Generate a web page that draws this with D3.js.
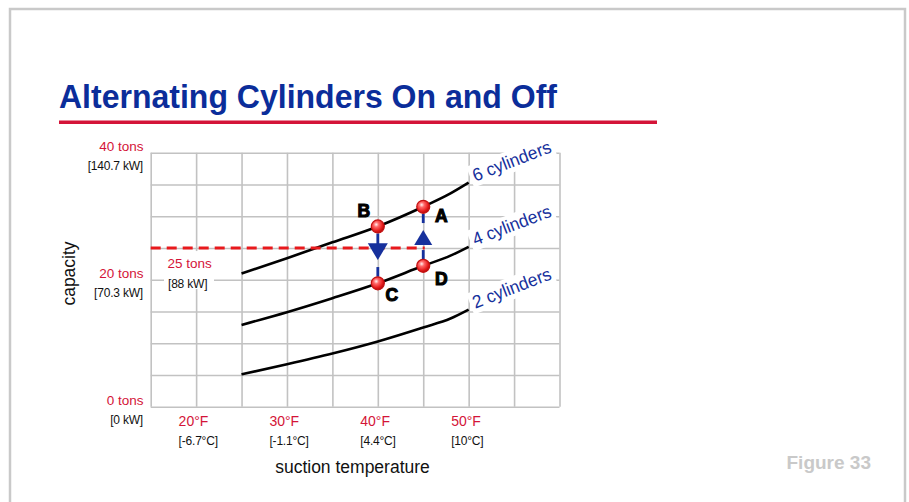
<!DOCTYPE html>
<html><head><meta charset="utf-8">
<script src="https://cdn.jsdelivr.net/npm/d3@7"></script>
<style>
html,body{margin:0;padding:0;background:#fff;}
svg{display:block;font-family:"Liberation Sans",Arial,Helvetica,sans-serif;}
</style>
</head><body>
<svg id="c" width="909" height="502"></svg>
<script>
// ---------- data ----------
const temps = [25, 30, 35, 40, 45, 48, 50];            // °F
const cap6 = [21.0, 23.4, 25.9, 28.4, 31.5, 33.6, 35.3]; // tons
const cap4 = [12.9, 14.9, 17.1, 19.45, 22.2, 23.8, 25.2];
const cap2 = [5.1, 6.7, 8.4, 10.3, 12.5, 13.9, 15.3];
const seriesNames = ["6 cylinders", "4 cylinders", "2 cylinders"];
const pointNames = ["A", "B", "C", "D"];
const pointTemps = [45, 40, 40, 45];
const pointCaps = [31.5, 28.4, 19.45, 22.2];
const targetTons = 25;
const targetLabels = ["25 tons", "[88 kW]"];
const yTickValues = [0, 20, 40];
const yTonsLabels = ["0 tons", "20 tons", "40 tons"];
const yKwLabels = ["[0 kW]", "[70.3 kW]", "[140.7 kW]"];
const xTickValues = [20, 30, 40, 50];
const xFLabels = ["20°F", "30°F", "40°F", "50°F"];
const xCLabels = ["[-6.7°C]", "[-1.1°C]", "[4.4°C]", "[10°C]"];
const titleText = "Alternating Cylinders On and Off";
const xTitle = "suction temperature";
const yTitle = "capacity";
const figureLabel = "Figure 33";

// ---------- setup ----------
const RED = "#d41438", BLUE = "#16309c", NAVY = "#0b2d9a", GRID = "#c2c2c2";
const svg = d3.select("#c");
const x = d3.scaleLinear().domain([15, 60]).range([150.7, 559.5]);
const y = d3.scaleLinear().domain([0, 40]).range([406.8, 152.8]);

// frame
svg.append("path")
  .attr("d", "M10,502 L10,9 L905,9 L905,502")
  .attr("fill", "none").attr("stroke", "#c9c9c9").attr("stroke-width", 2.5);

// title
svg.append("text").attr("x", 59).attr("y", 107.5)
  .attr("font-size", 34).attr("font-weight", "bold").attr("fill", NAVY)
  .attr("textLength", 498).attr("lengthAdjust", "spacingAndGlyphs")
  .text(titleText);
svg.append("rect").attr("x", 59).attr("y", 120.5).attr("width", 598).attr("height", 3.5).attr("fill", RED);

// gradient for markers
const defs = svg.append("defs");
const g = defs.append("radialGradient").attr("id", "ball").attr("cx", "38%").attr("cy", "35%").attr("r", "65%");
g.append("stop").attr("offset", "0%").attr("stop-color", "#fff2f2");
g.append("stop").attr("offset", "30%").attr("stop-color", "#ff6868");
g.append("stop").attr("offset", "75%").attr("stop-color", "#e61c1c");
g.append("stop").attr("offset", "100%").attr("stop-color", "#b80c0c");

// ---------- grid ----------
const gx = svg.append("g").attr("transform", `translate(0,${y(0)})`)
  .call(d3.axisBottom(x).tickValues(d3.range(15, 61, 5)).tickSize(-(y(0) - y(40))).tickFormat(""));
const gy = svg.append("g").attr("transform", `translate(${x(15)},0)`)
  .call(d3.axisLeft(y).tickValues(d3.range(0, 41, 5)).tickSize(-(x(60) - x(15))).tickFormat(""));
[gx, gy].forEach(a => {
  a.select(".domain").remove();
  a.selectAll(".tick line").attr("stroke", GRID).attr("stroke-width", 1.6);
});

// axis labels
const yl = svg.append("g");
yTickValues.forEach((v, i) => {
  yl.append("text").attr("x", 143.5).attr("y", y(v) - 1.5).attr("text-anchor", "end")
    .attr("font-size", 13.5).attr("fill", RED).text(yTonsLabels[i]);
  yl.append("text").attr("x", 143).attr("y", y(v) + 17.5).attr("text-anchor", "end")
    .attr("font-size", 12).attr("letter-spacing", -0.2).attr("fill", "#111").text(yKwLabels[i]);
});
const xl = svg.append("g");
xTickValues.forEach((v, i) => {
  xl.append("text").attr("x", x(v) - 17.5).attr("y", 425.5)
    .attr("font-size", 14).attr("fill", RED).text(xFLabels[i]);
  xl.append("text").attr("x", x(v) - 17.5).attr("y", 445)
    .attr("font-size", 12).attr("letter-spacing", -0.2).attr("fill", "#111").text(xCLabels[i]);
});
svg.append("text").attr("x", 352.5).attr("y", 473).attr("text-anchor", "middle")
  .attr("font-size", 17.5).attr("fill", "#111").text(xTitle);
svg.append("text").attr("transform", "translate(75,273.5) rotate(-90)").attr("text-anchor", "middle")
  .attr("font-size", 17.5).attr("fill", "#111").text(yTitle);

// target label with white box
const ty = y(targetTons);
svg.append("rect").attr("x", 164).attr("y", ty + 3).attr("width", 50).attr("height", 38).attr("fill", "#fff");
svg.append("text").attr("x", 167.5).attr("y", ty + 19.5).attr("font-size", 13.5).attr("fill", RED).text(targetLabels[0]);
svg.append("text").attr("x", 168).attr("y", ty + 39.5).attr("font-size", 12).attr("letter-spacing", -0.2).attr("fill", "#111").text(targetLabels[1]);

// ---------- curves ----------
const series = [cap6, cap4, cap2];
const line = d3.line().x(d => x(d[0])).y(d => y(d[1])).curve(d3.curveMonotoneX);
series.forEach(s => {
  svg.append("path").datum(temps.map((t, i) => [t, s[i]]))
    .attr("d", line).attr("fill", "none").attr("stroke", "#000").attr("stroke-width", 2.6);
});

// cylinder labels
series.forEach((s, i) => {
  const last = s.length - 1;
  const gg = svg.append("g")
    .attr("transform", `translate(${x(temps[last]) + 6.5},${y(s[last]) - 1}) rotate(-21)`);
  const t = gg.append("text").attr("x", 0).attr("y", 0).attr("font-size", 18).attr("fill", BLUE)
    .attr("textLength", 83).attr("lengthAdjust", "spacingAndGlyphs").text(seriesNames[i]);
  const bb = t.node().getBBox();
  gg.insert("rect", "text").attr("x", bb.x - 3).attr("y", bb.y - 1).attr("width", bb.width + 6).attr("height", bb.height + 2).attr("fill", "#fff");
});

// ---------- target dashed line ----------
svg.append("line").attr("x1", x(15)).attr("x2", x(45) + 1.5).attr("y1", ty).attr("y2", ty)
  .attr("stroke", "#e8191c").attr("stroke-width", 3).attr("stroke-dasharray", "10,6");

// ---------- arrows ----------
const R = 6.5;
const pA = [x(pointTemps[0]), y(pointCaps[0])], pB = [x(pointTemps[1]), y(pointCaps[1])];
const pC = [x(pointTemps[2]), y(pointCaps[2])], pD = [x(pointTemps[3]), y(pointCaps[3])];
const seg = (x0, y0, y1) => svg.append("line").attr("x1", x0).attr("x2", x0).attr("y1", y0).attr("y2", y1)
  .attr("stroke", BLUE).attr("stroke-width", 2.8);
// B -> C (down)
const dTop = ty - 4.7, dTip = ty + 12, dW = 10;
seg(pB[0], pB[1] + R + 0.5, dTop + 1);
seg(pB[0], dTip + 7, pC[1] - R);
svg.append("path").attr("d", `M${pB[0] - dW},${dTop} L${pB[0] + dW},${dTop} L${pB[0]},${dTip} Z`).attr("fill", BLUE);
// D -> A (up)
const uBase = ty - 3, uTip = ty - 18, uW = 9;
seg(pA[0], pA[1] + R + 0.5, uTip - 7);
seg(pA[0], ty + 2, pD[1] - R);
svg.append("path").attr("d", `M${pA[0] - uW},${uBase} L${pA[0] + uW},${uBase} L${pA[0]},${uTip} Z`).attr("fill", BLUE);

// markers
const pts = pointNames.map((n, i) => ({ n, px: x(pointTemps[i]), py: y(pointCaps[i]) }));
svg.selectAll("circle.pt").data(pts).enter().append("circle").attr("class", "pt")
  .attr("cx", d => d.px).attr("cy", d => d.py).attr("r", R)
  .attr("fill", "url(#ball)").attr("stroke", "#c41010").attr("stroke-width", 1.2);

// letters
const letterOff = { A: [18, 9], B: [-14, -16], C: [14, 11], D: [18, 13] };
svg.selectAll("text.lt").data(pts).enter().append("text").attr("class", "lt")
  .attr("x", d => d.px + letterOff[d.n][0]).attr("y", d => d.py + letterOff[d.n][1] + 6.3)
  .attr("text-anchor", "middle").attr("font-size", 17.5).attr("font-weight", "bold")
  .attr("fill", "#000").attr("stroke", "#000").attr("stroke-width", 1.1)
  .text(d => d.n);

// figure label
svg.append("text").attr("x", 871).attr("y", 468.5).attr("text-anchor", "end")
  .attr("font-size", 19).attr("font-weight", "bold").attr("fill", "#c9c9c9").text(figureLabel);
</script>
</body></html>
